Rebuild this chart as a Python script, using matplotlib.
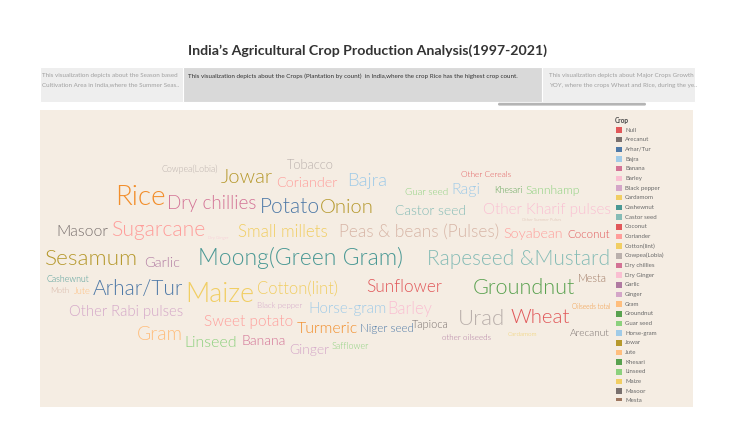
import matplotlib
matplotlib.use('Agg')
import matplotlib.pyplot as plt
from matplotlib.patches import Rectangle, FancyBboxPatch

plt.rcParams['font.family'] = ['Lato', 'DejaVu Sans']

# ---------------- data ----------------
crops = ["Rice", "Maize", "Moong(Green Gram)", "Urad", "Sesamum", "Groundnut",
         "Rapeseed &Mustard", "Arhar/Tur", "Potato", "Onion", "Sugarcane", "Wheat",
         "Jowar", "Gram", "Dry chillies", "Bajra", "Cotton(lint)", "Peas & beans (Pulses)",
         "Sunflower", "Small millets", "Barley", "Ragi", "Linseed", "Turmeric", "Masoor",
         "Sweet potato", "Other Kharif pulses", "Horse-gram", "Other Rabi pulses",
         "Coriander", "Garlic", "Soyabean", "Castor seed", "Banana", "Ginger", "Tobacco",
         "Sannhamp", "Niger seed", "Coconut", "Tapioca", "Mesta", "Arecanut", "Guar seed",
         "Jute", "Safflower", "Khesari", "Cowpea(Lobia)", "Cashewnut", "Other Cereals",
         "Moth", "Black pepper", "other oilseeds", "Oilseeds total", "Cardamom",
         "Dry Ginger", "Other Summer Pulses"]
counts = [21000, 20140, 16710, 16100, 16340, 15600,
          14870, 14900, 14850, 14380, 15110, 14420,
          14400, 13520, 13150, 12780, 11190, 11680,
          11650, 11430, 11070, 10450, 10580, 10470, 10330,
          10090, 9960, 9940, 9590,
          9230, 9210, 9100, 8740, 8720, 8700, 7880,
          7140, 6650, 6630, 6040, 6020, 5420, 5060,
          4570, 4440, 4320, 4200, 4180, 3830,
          3810, 3710, 3690, 2240, 1990,
          270, 150]

legend_crops = ["Null", "Arecanut", "Arhar/Tur", "Bajra", "Banana", "Barley", "Black pepper",
                "Cardamom", "Cashewnut", "Castor seed", "Coconut", "Coriander", "Cotton(lint)",
                "Cowpea(Lobia)", "Dry chillies", "Dry Ginger", "Garlic", "Ginger", "Gram",
                "Groundnut", "Guar seed", "Horse-gram", "Jowar", "Jute", "Khesari", "Linseed",
                "Maize", "Masoor", "Mesta"]

title = "India\u2019s Agricultural Crop Production Analysis(1997-2021)"
tab_texts = [
    "This visualization depicts about the Season based\nCultivation Area in India,where the Summer Seas..",
    "This visualization depicts about the Crops (Plantation by count)  in India,where the crop Rice has the highest crop count.",
    "This visualization depicts about Major Crops Growth\nYOY, where the crops Wheat and Rice, during the ye..",
]

# ---------------- styles ----------------
crop_colors = {
    "Null": "#e15759", "Rice": "#f28e2b", "Maize": "#f1ce63", "Moong(Green Gram)": "#499894",
    "Urad": "#bab0ac", "Sesamum": "#b6992d", "Groundnut": "#59a14f",
    "Rapeseed &Mustard": "#86bcb6", "Arhar/Tur": "#4e79a7", "Potato": "#4e79a7",
    "Onion": "#b6992d", "Sugarcane": "#ff9d9a", "Wheat": "#e15759", "Jowar": "#b6992d",
    "Gram": "#ffbe7d", "Dry chillies": "#d37295", "Bajra": "#a0cbe8", "Cotton(lint)": "#f1ce63",
    "Peas & beans (Pulses)": "#d7b5a6", "Sunflower": "#e15759", "Small millets": "#f1ce63",
    "Barley": "#fabfd2", "Ragi": "#a0cbe8", "Linseed": "#8cd17d", "Turmeric": "#f28e2b",
    "Masoor": "#79706e", "Sweet potato": "#ff9d9a", "Other Kharif pulses": "#fabfd2",
    "Horse-gram": "#a0cbe8", "Other Rabi pulses": "#d4a6c8", "Coriander": "#ff9d9a",
    "Garlic": "#b07aa1", "Soyabean": "#ff9d9a", "Castor seed": "#86bcb6", "Banana": "#d37295",
    "Ginger": "#d4a6c8", "Tobacco": "#bab0ac", "Sannhamp": "#8cd17d", "Niger seed": "#4e79a7",
    "Coconut": "#e15759", "Tapioca": "#79706e", "Mesta": "#9d7660", "Arecanut": "#79706e",
    "Guar seed": "#8cd17d", "Jute": "#ffbe7d", "Safflower": "#8cd17d", "Khesari": "#59a14f",
    "Cowpea(Lobia)": "#bab0ac", "Cashewnut": "#499894", "Other Cereals": "#e15759",
    "Moth": "#d7b5a6", "Black pepper": "#d4a6c8", "other oilseeds": "#b07aa1",
    "Oilseeds total": "#f28e2b", "Cardamom": "#f1ce63", "Dry Ginger": "#fabfd2",
    "Other Summer Pulses": "#d7b5a6",
}

# word-cloud layout: (centre x, baseline y) in pixels
layout = {
    "Rice": (140, 205), "Dry chillies": (212, 209), "Potato": (290, 213), "Onion": (347, 213),
    "Jowar": (247, 183), "Coriander": (307, 187), "Tobacco": (310, 169), "Cowpea(Lobia)": (190, 172),
    "Masoor": (82, 236), "Sugarcane": (158, 236), "Dry Ginger": (218, 239), "Small millets": (283, 237),
    "Sesamum": (92, 265), "Garlic": (162, 267), "Moong(Green Gram)": (300, 265),
    "Other Cereals": (486, 177), "Bajra": (367, 186), "Guar seed": (427, 195), "Ragi": (466, 194),
    "Khesari": (508, 193), "Sannhamp": (553, 194), "Castor seed": (431, 215),
    "Other Kharif pulses": (547, 214), "Other Summer Pulses": (542, 221),
    "Peas & beans (Pulses)": (419, 237), "Soyabean": (533, 238), "Coconut": (589, 238),
    "Rapeseed &Mustard": (519, 265), "Mesta": (592, 282),
    "Cashewnut": (68, 282), "Moth": (60, 293), "Jute": (82, 294), "Arhar/Tur": (138, 295),
    "Maize": (220, 302), "Cotton(lint)": (297, 294), "Black pepper": (280, 308),
    "Horse-gram": (348, 313), "Barley": (410, 314), "Other Rabi pulses": (126, 316),
    "Sweet potato": (249, 326), "Turmeric": (327, 333), "Gram": (160, 340), "Linseed": (211, 347),
    "Banana": (264, 345), "Ginger": (309, 354), "Safflower": (350, 349),
    "Sunflower": (404, 292), "Groundnut": (524, 294), "Niger seed": (387, 332),
    "Tapioca": (430, 328), "Urad": (481, 325), "Wheat": (540, 323), "Oilseeds total": (591, 309),
    "other oilseeds": (467, 340), "Cardamom": (522, 336), "Arecanut": (590, 336),
}

SIZE_MIN, SIZE_MAX = 3.0, 20.0

# ---------------- figure ----------------
W, H = 730, 441
fig = plt.figure(figsize=(7.3, 4.41), dpi=100)
fig.patch.set_facecolor('white')
bg = fig.add_axes([0, 0, 1, 1])
bg.set_xlim(0, W)
bg.set_ylim(H, 0)
bg.axis('off')


def frac(x0, y0, x1, y1):
    return [x0 / W, 1 - y1 / H, (x1 - x0) / W, (y1 - y0) / H]


bg.text(368, 51, title, fontsize=10.2, fontweight='bold', color='#333333',
        ha='center', va='center')

# tabs
tab_x = [(40, 183), (183, 542), (542, 695)]
tab_fc = ['#eeeeee', '#d9d9d9', '#eeeeee']
tab_tc = ['#a0a0a0', '#333333', '#a0a0a0']
tab_dx = [2, 5, 7]
for (x0, x1), fc, tc, dx, txt in zip(tab_x, tab_fc, tab_tc, tab_dx, tab_texts):
    bg.add_patch(Rectangle((x0, 67), x1 - x0, 35, facecolor=fc, edgecolor='white', lw=0.8))
    bg.text(x0 + dx, 73.5, txt, fontsize=4.5, color=tc,
            ha='left', va='top', linespacing=2.0)

bg.add_patch(FancyBboxPatch((498, 102.8), 148, 2.8,
                            boxstyle='round,pad=0,rounding_size=1.4',
                            facecolor='#b4b4b4', edgecolor='none'))

# panel
panel = fig.add_axes(frac(40, 110, 693, 407))
panel.set_xlim(40, 693)
panel.set_ylim(407, 110)
panel.set_facecolor('#f5ede3')
panel.set_xticks([])
panel.set_yticks([])
for s in panel.spines.values():
    s.set_visible(False)

cmin, cmax = min(counts), max(counts)
for crop, cnt in zip(crops, counts):
    size = SIZE_MIN + (cnt - cmin) / (cmax - cmin) * (SIZE_MAX - SIZE_MIN)
    x, y = layout[crop]
    panel.text(x, y, crop, fontsize=size, color=crop_colors[crop], fontweight=300,
               ha='center', va='baseline', clip_on=True)

# legend (clipped to its own scroll area)
leg_clip = Rectangle((610, 112), 83, 289, transform=panel.transData,
                     facecolor='none', edgecolor='none')
panel.add_patch(leg_clip)
panel.text(615, 120.5, "Crop", fontsize=4.7, fontweight='bold', color='#444444',
           ha='left', va='center')
for i, c in enumerate(legend_crops):
    y = 130 + i * 9.67
    r = Rectangle((616, y - 2.8), 5.6, 5.6, facecolor=crop_colors[c], edgecolor='none')
    panel.add_patch(r)
    r.set_clip_path(leg_clip)
    t = panel.text(625, y, c, fontsize=4.4, color='#6a6a6a', ha='left', va='center')
    t.set_clip_path(leg_clip)

fig.savefig('out.png', dpi=100, facecolor='white')
